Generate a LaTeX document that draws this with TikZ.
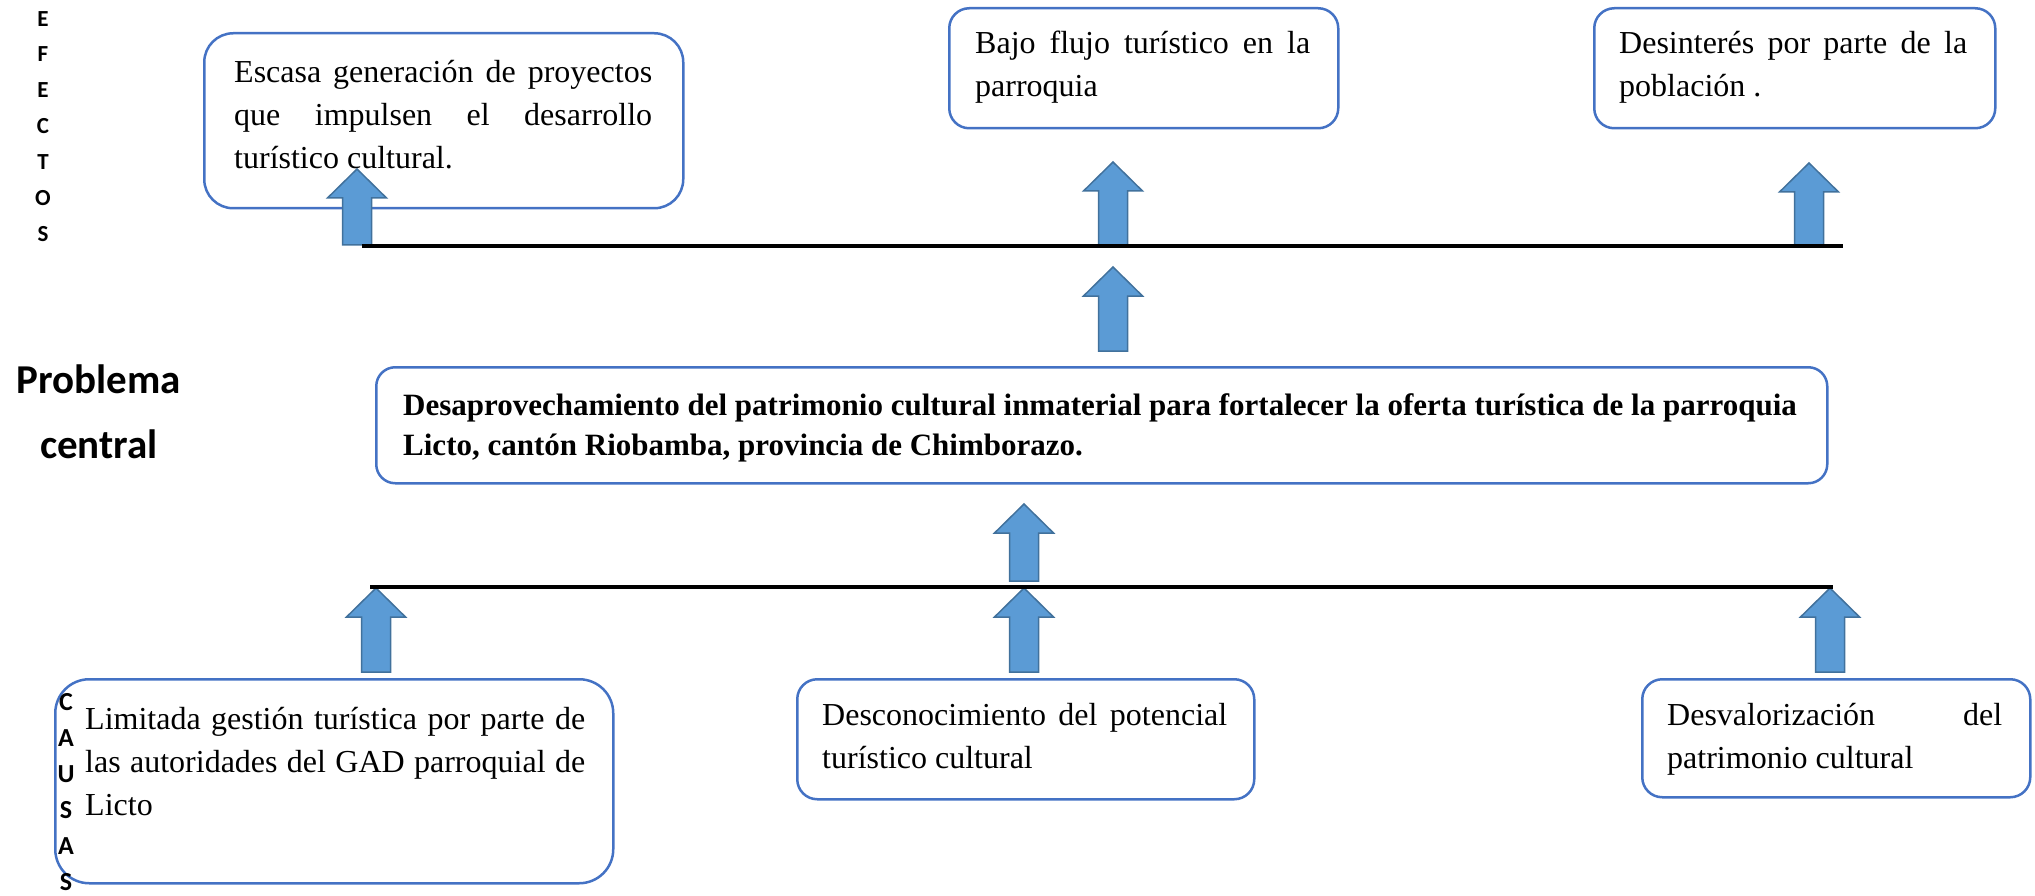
\documentclass[tikz,border=0pt]{standalone}
\usepackage{fontspec}
\setmainfont{Liberation Serif}
\newfontfamily\calibri{Carlito}
\usetikzlibrary{positioning}

\definecolor{bordeazul}{HTML}{4472C4}
\definecolor{flechaazul}{HTML}{5B9BD5}
\definecolor{flechaborde}{HTML}{41719C}

\tikzset{
  caja/.style={draw=bordeazul, line width=2.5pt, rounded corners=#1, anchor=north west, inner sep=0pt},
  texto/.style={inner sep=0pt, anchor=north west, align=justify, font=\fontsize{32}{43}\selectfont},
  textob/.style={inner sep=0pt, anchor=north west, align=left, font=\fontsize{31}{40}\selectfont\bfseries},
  letra/.style={inner sep=0pt, text height=0.64em, text depth=0pt, font=\calibri\bfseries\fontsize{23}{23}\selectfont},
  letrac/.style={letra, font=\calibri\bfseries\fontsize{26}{26}\selectfont},
  linea/.style={line width=3.5pt, black},
  flechafill/.style={fill=flechaazul, draw=flechaborde, line width=1.5pt},
  pics/flecha/.style={code={
    \draw[flechafill] (-14.5,0) -- (-14.5,{#1-29}) -- (-29.5,{#1-29}) -- (0,{#1})
      -- (29.5,{#1-29}) -- (14.5,{#1-29}) -- (14.5,0) -- cycle;
  }}
}

\begin{document}
\begin{tikzpicture}[x=1pt,y=1pt,yscale=-1]
\useasboundingbox (0,0) rectangle (2035,896);

% Efectos
\node[caja=29pt, minimum width=479pt, minimum height=175pt] (e1) at (203,32) {};
\node[caja=20pt, minimum width=389pt, minimum height=120pt] (e2) at (948,7) {};
\node[caja=20pt, minimum width=401pt, minimum height=120pt] (e3) at (1593,7) {};

\node[texto, text width=418pt] (e1t) at (234,52) {\strut Escasa generación de proyectos\linebreak que impulsen el desarrollo\linebreak turístico cultural.};
\node[texto, text width=335pt] (e2t) at (975,23) {\strut Bajo flujo turístico en la\linebreak parroquia};
\node[texto, text width=348pt] (e3t) at (1619,23) {\strut Desinterés por parte de la\linebreak población .};

% Problema central
\node[caja=19pt, minimum width=1451pt, minimum height=116pt] (pc) at (375,366) {};
\node[textob] (pct) at (403,387) {\strut Desaprovechamiento del patrimonio cultural inmaterial para fortalecer la oferta turística de la parroquia\\Licto, cantón Riobamba, provincia de Chimborazo.};

% Causas
\node[caja=34pt, minimum width=558pt, minimum height=204pt] (c1) at (54,678) {};
\node[caja=20pt, minimum width=457pt, minimum height=120pt] (c2) at (796,678) {};
\node[caja=20pt, minimum width=388pt, minimum height=118pt] (c3) at (1641,678) {};

\node[texto, text width=500pt] (c1t) at (85,699) {\strut Limitada gestión turística por parte de\linebreak las autoridades del GAD parroquial de\linebreak Licto};
\node[texto, text width=405pt] (c2t) at (822,695) {\strut Desconocimiento del potencial\linebreak turístico cultural};
\node[texto, text width=335pt] (c3t) at (1667,695) {\strut Desvalorización del\linebreak patrimonio cultural};

% Flechas
\pic at (357,245) {flecha=76};
\pic at (1113,245) {flecha=83};
\pic at (1809,246) {flecha=83};
\pic at (1113,351) {flecha=84};
\pic at (1024,581) {flecha=77};
\foreach \x in {376,1024,1830}
  \pic at (\x,672) {flecha=84};

% Lineas
\coordinate (sup-a) at (362,246);
\coordinate (sup-b) at (1843,246);
\coordinate (inf-a) at (370,587);
\coordinate (inf-b) at (1833,587);
\draw[linea] (sup-a) -- (sup-b);
\draw[linea] (inf-a) -- (inf-b);

% Rotulos
\foreach \l [count=\i] in {E,F,E,C,T,O,S}
  \node[letra] (ef\i) at (43,{23+35.8*(\i-1)}) {\l};
\foreach \l [count=\i] in {C,A,U,S,A,S}
  \node[letrac] (ca\i) at (66,{707+36*(\i-1)}) {\l};
\node[anchor=north, inner sep=0pt, align=center, font=\calibri\bfseries\fontsize{41}{65}\selectfont] (prob) at (99,348) {\strut Problema\\central};

\end{tikzpicture}
\end{document}
